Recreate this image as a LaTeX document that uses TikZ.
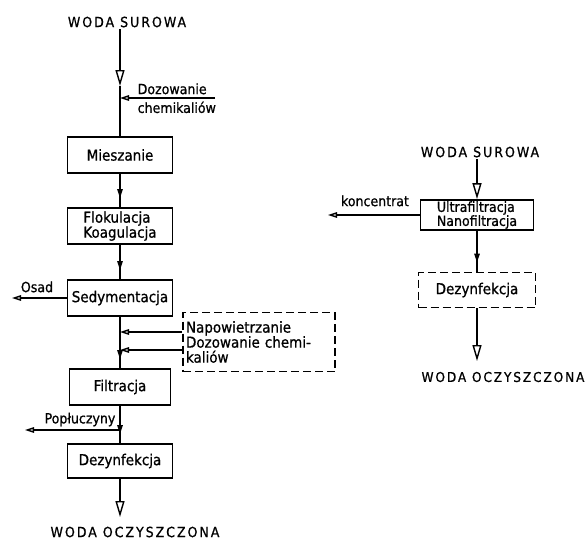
\documentclass[tikz,border=0pt]{standalone}
\usepackage{fontspec}
\setmainfont{DejaVu Sans Condensed}[FakeBold=0.8]
\newfontfamily\capsfont{DejaVu Sans Condensed}[LetterSpace=14,FakeBold=0.8]
\usetikzlibrary{arrows.meta,decorations.markings}

\tikzset{
  box/.style={draw,line width=1.8pt,minimum width=105pt,minimum height=36pt,
    align=left,inner sep=2pt,font=\fontsize{15}{15}\selectfont},
  dbox/.style={box,dash pattern=on 8pt off 4pt},
  title/.style={font=\capsfont\fontsize{14}{15}\selectfont,inner sep=1pt},
  lbl/.style={font=\fontsize{14}{15}\selectfont,inner sep=1pt},
  bigtip/.tip={Triangle[open,length=16pt,width=9pt,line width=1.4pt]},
  smalltip/.tip={Triangle[open,length=9pt,width=5.5pt,line width=1.4pt]},
  flow/.style={postaction={decorate},decoration={markings,
    mark=at position -9pt with {\arrow{smalltip}}}}
}

\begin{document}
\begin{tikzpicture}[x=1pt,y=-1pt,line width=1.4pt]
  \useasboundingbox (0,0) rectangle (586,550);
  % left scheme
  \node[title] (woda1) at (127,22) {WODA SUROWA};
  \node[box] (mies) at (120,155) {Mieszanie};
  \node[box] (flok) at (120,226) {Flokulacja\\Koagulacja};
  \node[box] (sedy) at (120,298) {Sedymentacja};
  \node[dbox,minimum width=152pt,minimum height=59pt,text width=146pt] (napo) at (259,342)
    {Napowietrzanie\\Dozowanie chemi-\\kaliów};
  \node[box,minimum width=101pt] (filt) at (120,387) {Filtracja};
  \node[box,minimum height=34pt] (dez1) at (120,461) {Dezynfekcja};
  \node[title] (woda2) at (135,532) {WODA OCZYSZCZONA};
  \coordinate (t1) at (120,86);
  \coordinate (j1) at (120,98);
  \coordinate (d1) at (215,98);
  \coordinate (jp) at (120,430);
  \coordinate (popl) at (25,430);
  \coordinate (osad) at (12,298);
  \coordinate (t2) at (120,517);
  \draw[-{bigtip}] (woda1.south -| mies.north) -- (t1);
  \draw (t1) -- (mies);
  \draw[-{smalltip}] (d1) -- (j1);
  \node[lbl,anchor=south west] at (136,96) {Dozowanie};
  \node[lbl,anchor=north west] at (136,100) {chemikaliów};
  \draw[flow] (mies) -- (flok);
  \draw[flow] (flok) -- (sedy);
  \draw[-{smalltip}] (sedy) -- (osad);
  \node[lbl,anchor=south] at (37,294) {Osad};
  \draw[-{smalltip}] ([yshift=10pt]napo.west) -- ([yshift=10pt]napo.west -| sedy.south);
  \draw[-{smalltip}] ([yshift=-8pt]napo.west) -- ([yshift=-8pt]napo.west -| sedy.south);
  \draw[flow] (sedy) -- (filt);
  \draw[flow] (filt) -- (dez1);
  \draw[-{smalltip}] (jp) -- (popl);
  \node[lbl,anchor=south] at (80,428) {Popłuczyny};
  \draw[-{bigtip}] (dez1) -- (t2);
  % right scheme
  \node[title] (woda3) at (480,152) {WODA SUROWA};
  \node[box,minimum width=113pt,minimum height=30pt,inner sep=1pt,
    font=\fontsize{14}{14}\selectfont] (ultra) at (477,215)
    {Ultrafiltracja\\Nanofiltracja};
  \node[dbox,minimum width=117pt,minimum height=35pt] (dez2) at (477,290) {Dezynfekcja};
  \node[title,font=\capsfont\fontsize{13.5}{15}\selectfont] (woda4) at (503,377) {WODA OCZYSZCZONA};
  \coordinate (konc) at (328,215);
  \coordinate (t3) at (477,361);
  \draw[-{bigtip}] (woda3.south -| ultra.north) -- (ultra);
  \draw[-{smalltip}] (ultra) -- (konc);
  \node[lbl,anchor=south] at (375,208) {koncentrat};
  \draw[flow] (ultra) -- (dez2);
  \draw[-{bigtip}] (dez2) -- (t3);
\end{tikzpicture}
\end{document}
